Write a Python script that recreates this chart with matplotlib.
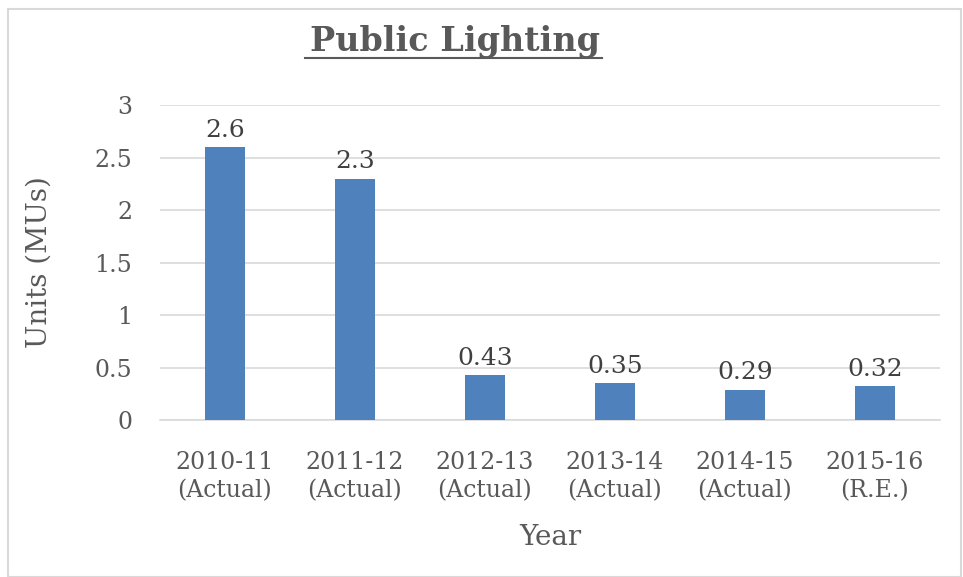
import matplotlib.pyplot as plt
from matplotlib.patches import Rectangle

years = ['2010-11\n(Actual)', '2011-12\n(Actual)', '2012-13\n(Actual)',
         '2013-14\n(Actual)', '2014-15\n(Actual)', '2015-16\n(R.E.)']
units = [2.6, 2.3, 0.43, 0.35, 0.29, 0.32]
labels = ['2.6', '2.3', '0.43', '0.35', '0.29', '0.32']
yticks = [0, 0.5, 1, 1.5, 2, 2.5, 3]
yticklabels = ['0', '0.5', '1', '1.5', '2', '2.5', '3']

plt.rcParams['font.family'] = ['DejaVu Serif']
txt = '#595959'

fig = plt.figure(figsize=(9.63, 5.77), dpi=100)
fig.patches.append(Rectangle((0.008, 0.0), 0.99, 0.985, transform=fig.transFigure,
                             fill=False, edgecolor='#D9D9D9', linewidth=1.5))
ax = fig.add_axes([0.166, 0.272, 0.81, 0.546])

x = range(len(units))
ax.bar(x, units, width=0.31, color='#4F81BD', zorder=3)
for i, v in enumerate(units):
    ax.text(i, v + 0.05, labels[i], ha='center', va='bottom', fontsize=18, color='#404040')

ax.set_ylim(0, 3)
ax.set_xlim(-0.5, len(units) - 0.5)
ax.set_yticks(yticks)
ax.set_yticklabels(yticklabels)
ax.set_xticks(list(x))
ax.set_xticklabels(years, linespacing=1.3)
ax.tick_params(axis='both', length=0, labelsize=17, labelcolor=txt)
ax.tick_params(axis='x', pad=22)
ax.tick_params(axis='y', pad=20)
ax.grid(axis='y', color='#D9D9D9', linewidth=1.2, zorder=0)
for s in ['top', 'right', 'left']:
    ax.spines[s].set_visible(False)
ax.spines['bottom'].set_color('#D9D9D9')
ax.spines['bottom'].set_linewidth(1.2)

ax.set_xlabel('Year', fontsize=20, color=txt, labelpad=16)
ax.set_ylabel('Units (MUs)', fontsize=20, color=txt, labelpad=30)
fig.text(0.472, 0.928, 'Public Lighting', ha='center', va='center', fontsize=24,
         fontweight='bold', color=txt)
fig.add_artist(plt.Line2D([0.317, 0.625], [0.899, 0.899], color=txt, linewidth=1.5))

fig.savefig('out.png', dpi=100)
